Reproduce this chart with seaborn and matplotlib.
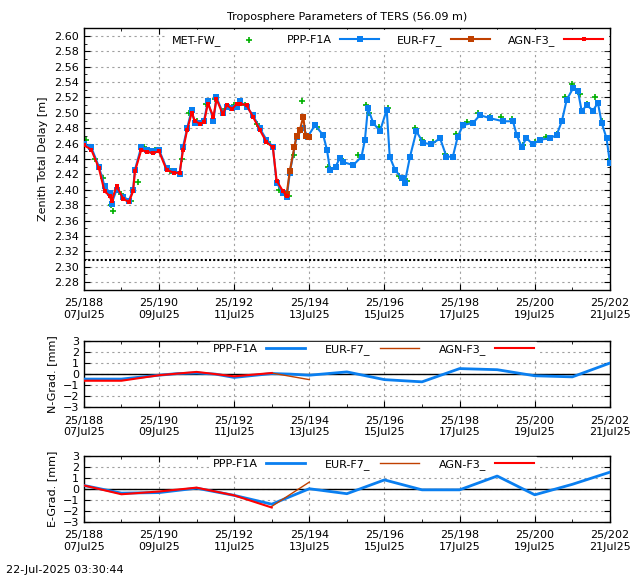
import numpy as np
import pandas as pd
import matplotlib
matplotlib.use("Agg")
import matplotlib.pyplot as plt
import seaborn as sns

# ---- ZTD data (day of year 2025) ----
ppp_t = [188.0,188.2,188.4,188.55,188.69,188.74,188.87,189.05,189.2,189.31,189.36,189.53,189.67,189.85,190.0,
         190.2,190.4,190.55,190.64,190.75,190.87,190.95,191.1,191.2,191.3,191.45,191.53,191.7,191.8,191.95,192.07,
         192.15,192.33,192.5,192.68,192.86,193.03,193.13,193.3,193.4,193.48,193.66,193.84,193.96,194.15,194.37,
         194.47,194.55,194.7,194.81,194.9,195.17,195.39,195.48,195.56,195.7,195.88,196.06,196.14,196.28,196.46,
         196.54,196.68,196.85,197.03,197.25,197.48,197.65,197.82,197.95,198.09,198.36,198.54,198.81,199.16,
         199.42,199.52,199.65,199.78,199.95,200.14,200.4,200.58,200.72,200.85,201.02,201.15,201.25,201.38,
         201.55,201.68,201.78,201.91,202.0]
ppp_v = [2.460,2.455,2.430,2.405,2.396,2.382,2.400,2.391,2.386,2.400,2.426,2.456,2.452,2.450,2.452,
         2.428,2.424,2.420,2.456,2.480,2.504,2.487,2.487,2.490,2.515,2.490,2.520,2.500,2.508,2.506,2.508,
         2.515,2.508,2.497,2.480,2.465,2.456,2.409,2.396,2.390,2.422,2.469,2.480,2.469,2.484,2.471,
         2.452,2.426,2.430,2.441,2.436,2.432,2.443,2.465,2.506,2.487,2.476,2.504,2.443,2.426,2.415,
         2.409,2.443,2.476,2.461,2.459,2.467,2.443,2.443,2.469,2.484,2.487,2.497,2.493,2.489,
         2.489,2.471,2.456,2.467,2.459,2.465,2.467,2.471,2.489,2.517,2.532,2.528,2.502,2.510,
         2.503,2.513,2.487,2.467,2.435]
met_t = [188.05,188.3,188.5,188.72,188.78,189.0,189.25,189.45,189.6,189.9,190.3,190.6,190.8,191.0,191.25,
         191.5,191.75,192.0,192.3,192.6,192.9,193.2,193.45,193.6,193.8,193.9,194.2,194.5,194.9,195.3,195.5,
         195.6,195.85,196.1,196.4,196.6,196.8,197.0,197.3,197.6,197.9,198.2,198.5,198.8,199.1,199.4,
         199.7,200.0,200.3,200.6,200.8,201.0,201.2,201.4,201.6,201.8,202.0]
met_v = [2.465,2.440,2.415,2.380,2.372,2.395,2.385,2.410,2.455,2.452,2.425,2.440,2.500,2.490,2.512,
         2.518,2.505,2.510,2.510,2.485,2.462,2.400,2.392,2.445,2.515,2.470,2.482,2.430,2.438,2.445,2.510,
         2.500,2.482,2.506,2.418,2.412,2.480,2.465,2.462,2.447,2.472,2.488,2.500,2.495,2.494,
         2.492,2.458,2.462,2.468,2.473,2.520,2.538,2.525,2.512,2.520,2.490,2.440]
agn_t = [188.0,188.2,188.4,188.55,188.69,188.74,188.87,189.05,189.2,189.31,189.36,189.53,189.67,189.85,190.0,
         190.2,190.4,190.55,190.64,190.75,190.87,190.95,191.1,191.2,191.3,191.45,191.53,191.7,191.8,191.95,192.07,
         192.15,192.33,192.5,192.68,192.86,193.03,193.13,193.3,193.4]
agn_v = [2.458,2.452,2.428,2.398,2.392,2.385,2.405,2.388,2.384,2.398,2.424,2.452,2.449,2.448,2.450,
         2.426,2.422,2.422,2.452,2.478,2.500,2.490,2.485,2.488,2.512,2.495,2.518,2.498,2.510,2.505,2.512,
         2.512,2.510,2.495,2.478,2.462,2.455,2.412,2.398,2.392]
eur_t = [193.4,193.48,193.6,193.66,193.75,193.84,193.9,194.0]
eur_v = [2.395,2.424,2.455,2.470,2.478,2.495,2.470,2.468]
ref_t = [188.0,202.0]
ref_v = [2.309,2.309]

# ---- gradients ----
ng_t = [188,189,190,190.5,191,191.5,192,193,193.5,194,195,196,197,198,199,200,201,202]
ng_ppp = [-0.45,-0.45,-0.1,0.05,0.1,0.0,-0.3,0.05,0.0,-0.1,0.2,-0.5,-0.7,0.5,0.4,-0.15,-0.25,1.0]
ng_agn_t = [188,189,190,191,192,193]
ng_agn = [-0.6,-0.6,-0.1,0.2,-0.2,0.1]
ng_eur_t = [193,194]
ng_eur = [0.1,-0.5]
eg_t = [188,189,190,191,192,193,194,195,196,197,198,199,200,201,202]
eg_ppp = [0.3,-0.4,-0.35,0.05,-0.6,-1.4,0.0,-0.45,0.8,-0.1,-0.1,1.15,-0.55,0.4,1.5]
eg_agn_t = [188,189,190,191,192,193]
eg_agn = [0.3,-0.5,-0.25,0.1,-0.6,-1.7]
eg_eur_t = [193,194]
eg_eur = [-1.6,0.6]

xticks = [188,190,192,194,196,198,200,202]
xlabels = ["25/188\n07Jul25","25/190\n09Jul25","25/192\n11Jul25","25/194\n13Jul25",
           "25/196\n15Jul25","25/198\n17Jul25","25/200\n19Jul25","25/202\n21Jul25"]

BLUE, BROWN, RED, GREEN = "#0a7ff0", "#c04000", "#ff0000", "#00b000"
plt.rcParams["font.family"] = "DejaVu Sans"
plt.rcParams["font.size"] = 8
fig = plt.figure(figsize=(6.4, 5.76), dpi=100)
ax1 = fig.add_axes([0.131, 0.497, 0.822, 0.454])
ax2 = fig.add_axes([0.131, 0.293, 0.822, 0.115])
ax3 = fig.add_axes([0.131, 0.094, 0.822, 0.115])

def style(ax):
    ax.set_xlim(188, 202)
    ax.set_xticks(xticks)
    ax.set_xticklabels(xlabels)
    ax.set_xticks(np.arange(188, 203, 1), minor=True)
    ax.tick_params(direction="in", which="both", top=True, right=True, length=4)
    ax.tick_params(which="minor", length=2)
    ax.tick_params(axis="x", pad=6)
    ax.grid(True, which="major", color="#a0a0a0", linestyle=(0, (2, 3)), linewidth=0.8)
    for s in ax.spines.values():
        s.set_linewidth(1.0)

sns.scatterplot(x=met_t, y=met_v, ax=ax1, color=GREEN, marker="+", s=20, linewidth=1.2, label="MET-FW_", zorder=2)
sns.lineplot(x=ppp_t, y=ppp_v, ax=ax1, color=BLUE, marker="s", markersize=4, markeredgewidth=0, lw=1.5, label="PPP-F1A", zorder=3)
sns.lineplot(x=eur_t, y=eur_v, ax=ax1, color=BROWN, marker="s", markersize=4, markeredgewidth=0, lw=1.5, label="EUR-F7_", zorder=4)
sns.lineplot(x=agn_t, y=agn_v, ax=ax1, color=RED, marker="s", markersize=3.5, markeredgewidth=0, lw=1.5, label="AGN-F3_", zorder=5)
sns.lineplot(x=ref_t, y=ref_v, ax=ax1, color="black", lw=1.5, linestyle=(0, (1, 1)), zorder=2)
style(ax1)
ax1.set_ylim(2.27, 2.61)
ax1.set_yticks(np.arange(2.28, 2.601, 0.02))
ax1.set_yticks(np.arange(2.27, 2.611, 0.01), minor=True)
ax1.set_yticklabels([f"{v:.2f}" for v in np.arange(2.28, 2.601, 0.02)])
ax1.set_ylabel("Zenith Total Delay [m]")
ax1.set_title("Troposphere Parameters of TERS (56.09 m)", fontsize=8, pad=6)
leg = ax1.legend(loc="upper right", ncol=4, markerfirst=False, frameon=True, fancybox=False,
                 edgecolor="white", framealpha=1, borderaxespad=0.2, handlelength=3.5, columnspacing=1.6)

for ax, t, p, at, a, et, e, lab in [(ax2, ng_t, ng_ppp, ng_agn_t, ng_agn, ng_eur_t, ng_eur, "N-Grad. [mm]"),
                                     (ax3, eg_t, eg_ppp, eg_agn_t, eg_agn, eg_eur_t, eg_eur, "E-Grad. [mm]")]:
    sns.lineplot(x=t, y=p, ax=ax, color=BLUE, lw=2, label="PPP-F1A", zorder=3)
    sns.lineplot(x=et, y=e, ax=ax, color=BROWN, lw=1, label="EUR-F7_", zorder=4)
    sns.lineplot(x=at, y=a, ax=ax, color=RED, lw=1.5, label="AGN-F3_", zorder=5)
    ax.axhline(0, color="black", lw=1, zorder=2)
    style(ax)
    ax.set_ylim(-3, 3)
    ax.set_yticks(range(-3, 4))
    ax.set_ylabel(lab)
    ax.legend(loc="upper center", bbox_to_anchor=(0.55, 1.0), ncol=3, markerfirst=False, frameon=True,
              fancybox=False, edgecolor="white", framealpha=1, borderaxespad=0.1, handlelength=3.5,
              columnspacing=1.8, borderpad=0.2)

fig.text(0.01, 0.005, "22-Jul-2025 03:30:44", fontsize=8)
fig.savefig("out.png", dpi=100)
